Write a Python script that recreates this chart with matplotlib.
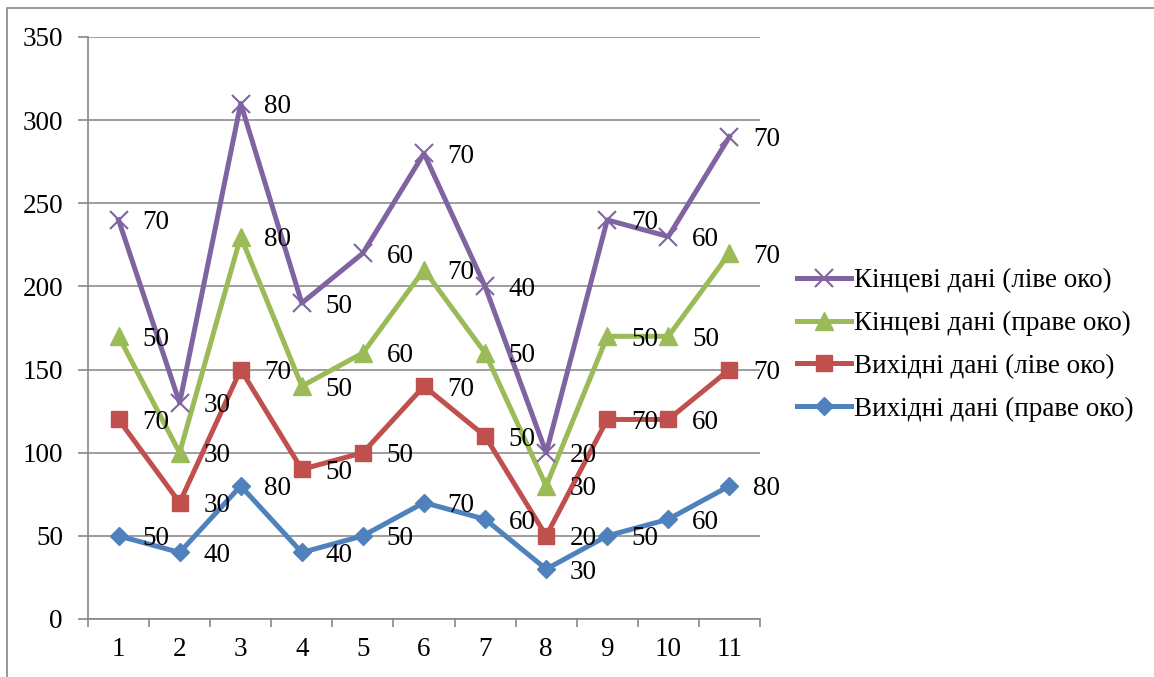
import numpy as np
import matplotlib.pyplot as plt
from matplotlib.patches import Rectangle

plt.rcParams['font.family'] = ['Liberation Serif', 'DejaVu Serif']

days = [1, 2, 3, 4, 5, 6, 7, 8, 9, 10, 11]

# individual values (shown as labels); the chart stacks them
right_start = [50, 40, 80, 40, 50, 70, 60, 30, 50, 60, 80]
left_start = [70, 30, 70, 50, 50, 70, 50, 20, 70, 60, 70]
right_end = [50, 30, 80, 50, 60, 70, 50, 30, 50, 50, 70]
left_end = [70, 30, 80, 50, 60, 70, 40, 20, 70, 60, 70]

names = ['Вихідні дані (праве око)', 'Вихідні дані (ліве око)',
         'Кінцеві дані (праве око)', 'Кінцеві дані (ліве око)']
colors = ['#4F81BD', '#C0504D', '#9BBB59', '#8064A2']
markers = ['D', 's', '^', 'x']
msizes = [9, 12, 13, 13]

series = np.array([right_start, left_start, right_end, left_end])
stacked = np.cumsum(series, axis=0)

fs = 19.5

fig = plt.figure(figsize=(11.54, 6.77), dpi=100)
ax = fig.add_axes([88 / 1154, 1 - 619 / 677, (760 - 88) / 1154, (619 - 37) / 677])

# outer chart frame (only top and left edges visible)
fig.patches.append(Rectangle((7 / 1154, -0.1), 1.2, 1.1 - 8 / 677, transform=fig.transFigure,
                             fill=False, edgecolor='#888888', linewidth=1.2))

handles = []
for i in range(4):
    mew = 1.5 if markers[i] == 'x' else 1
    h, = ax.plot(days, stacked[i], color=colors[i], linewidth=3.6, marker=markers[i],
                 markersize=msizes[i], markeredgewidth=mew, markeredgecolor=colors[i],
                 zorder=3 + i, label=names[i], clip_on=False)
    handles.append(h)
    for x, y, v in zip(days, stacked[i], series[i]):
        ax.annotate(str(v), (x, y), xytext=(17, 0), textcoords='offset points',
                    ha='left', va='center_baseline', fontsize=fs, color='black', zorder=10)

ax.set_xlim(0.5, 11.5)
ax.set_ylim(0, 350)
ax.set_yticks(np.arange(0, 351, 50))
ax.set_xticks(days)
ax.set_xticks(np.arange(0.5, 11.6, 1), minor=True)
ax.tick_params(axis='x', which='major', length=0, pad=13, labelsize=fs)
ax.tick_params(axis='x', which='minor', length=6, width=1.2, color='#888888', direction='out')
ax.tick_params(axis='y', length=7, width=1.2, color='#888888', labelsize=fs, pad=11)
ax.grid(axis='y', color='#8C8C8C', linewidth=1.2)
ax.set_axisbelow(True)
for s in ['top', 'right']:
    ax.spines[s].set_visible(False)
for s in ['left', 'bottom']:
    ax.spines[s].set_color('#888888')
    ax.spines[s].set_linewidth(1.2)

fig.legend(handles[::-1], names[::-1], loc='center left', bbox_to_anchor=(797 / 1154, 1 - 345 / 677),
           frameon=False, fontsize=fs, handlelength=2.0, handletextpad=0.1, labelspacing=0.65,
           borderpad=0, borderaxespad=0)

fig.savefig('out.png', dpi=100)
